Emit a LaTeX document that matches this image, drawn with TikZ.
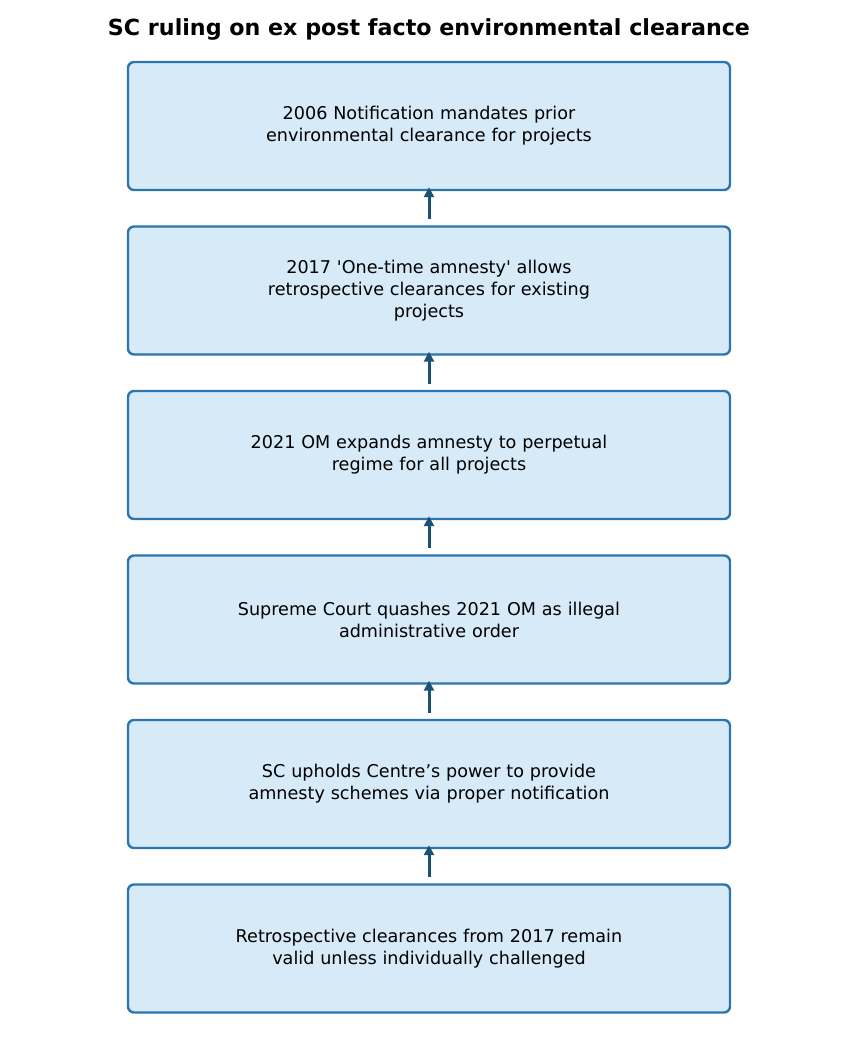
\documentclass[tikz,border=0pt]{standalone}
\usepackage{fontspec}
\setmainfont{DejaVu Sans}
\definecolor{stepfill}{RGB}{214, 234, 248}
\definecolor{stepline}{RGB}{46, 117, 174}
\definecolor{arrowblue}{RGB}{26, 82, 118}
\usetikzlibrary{arrows.meta, positioning}

\tikzset{
  stepbox/.style={draw=stepline, fill=stepfill, line width=2.4pt, rounded corners=6pt,
    minimum width=602pt, minimum height=128pt, text width=560pt, align=center,
    font=\fontsize{17.6}{22}\selectfont},
  uparrow/.style={draw=arrowblue, line width=3pt, -{Triangle[length=10pt, width=10pt]}}
}

\begin{document}
\begin{tikzpicture}[x=1pt, y=1pt]
  \useasboundingbox (0,0) rectangle (858,-1053);
  \node (title) at (429,-29) {\fontsize{22.2}{26}\selectfont\bfseries SC ruling on ex post facto environmental clearance};

  % timeline boxes
  \node[stepbox] (s1) at (429,-126) {2006 Notification mandates prior\\environmental clearance for projects};
  \node[stepbox, below=34.1pt of s1] (s2) {2017 \textquotesingle One-time amnesty\textquotesingle\ allows\\retrospective clearances for existing\\projects};
  \node[stepbox, below=34.1pt of s2] (s3) {2021 OM expands amnesty to perpetual\\regime for all projects};
  \node[stepbox, below=34.1pt of s3] (s4) {Supreme Court quashes 2021 OM as illegal\\administrative order};
  \node[stepbox, below=34.1pt of s4] (s5) {SC upholds Centre’s power to provide\\amnesty schemes via proper notification};
  \node[stepbox, below=34.1pt of s5] (s6) {Retrospective clearances from 2017 remain\\valid unless individually challenged};

  % arrows point up
  \foreach \a/\b in {s2/s1, s3/s2, s4/s3, s5/s4, s6/s5}
    \draw[uparrow] ([yshift=6pt]\a.north) -- ([yshift=4pt]\b.south);
\end{tikzpicture}
\end{document}
